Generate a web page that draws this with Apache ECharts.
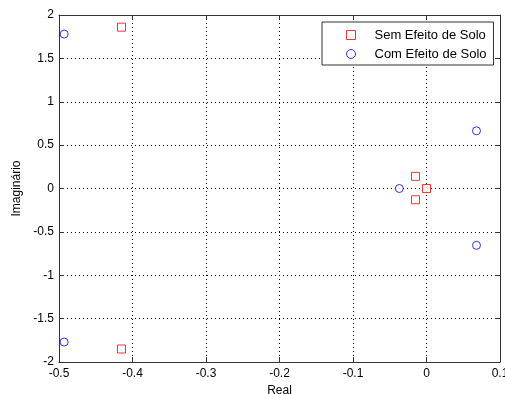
<!DOCTYPE html>
<html>
<head>
<meta charset="utf-8">
<script src="https://cdn.jsdelivr.net/npm/echarts@6/dist/echarts.min.js"></script>
<style>
  html, body { margin: 0; padding: 0; background: #fff; }
  #chart { width: 505px; height: 394px; }
</style>
</head>
<body>
<div id="chart"></div>
<script>
// polos sem efeito de solo (quadrados vermelhos)
const semReal = [-0.415, -0.415, -0.015, -0.015, 0];
const semImag = [1.86, -1.85, 0.14, -0.13, 0];
// polos com efeito de solo (circulos azuis)
const comReal = [-0.493, -0.493, -0.037, 0.068, 0.068];
const comImag = [1.78, -1.77, 0, 0.665, -0.655];

const seriesNames = ["Sem Efeito de Solo", "Com Efeito de Solo"];

const fontFam = "'Liberation Sans', Arial, sans-serif";

function pairs(xs, ys) {
  return xs.map((x, i) => [x, ys[i]]);
}

function fmt(v) {
  return String(parseFloat(v.toFixed(2)));
}

const chart = echarts.init(document.getElementById("chart"), null, { renderer: "canvas" });

const axisLine = { show: true, onZero: false, lineStyle: { color: "#333", width: 1 } };
const tick = { show: true, inside: true, length: 5, lineStyle: { color: "#333" } };
const grid = { show: true, lineStyle: { color: "#000", type: [1, 3], width: 1 } };

chart.setOption({
  animation: false,
  backgroundColor: "#fff",
  grid: { left: 59, top: 15, right: 5, bottom: 32, outerBoundsMode: "none", containLabel: false },
  legend: {
    orient: "vertical",
    left: 322,
    top: 22,
    padding: [6, 7, 4, 24],
    itemWidth: 9,
    itemHeight: 9,
    itemGap: 5,
    itemStyle: { borderWidth: 1 },
    backgroundColor: "#fff",
    borderColor: "#333",
    borderWidth: 1,
    textStyle: { fontFamily: fontFam, fontSize: 13, color: "#000", lineHeight: 14, padding: [0, 0, 0, 14] },
    data: seriesNames,
  },
  xAxis: [
    {
      type: "value",
      min: -0.5,
      max: 0.1,
      interval: 0.1,
      name: "Real",
      nameLocation: "middle",
      nameGap: 20,
      nameTextStyle: { fontFamily: fontFam, fontSize: 12, color: "#000" },
      axisLine: axisLine,
      axisTick: tick,
      splitLine: grid,
      axisLabel: { margin: 6, fontFamily: fontFam, fontSize: 12, color: "#000", formatter: fmt },
    },
    {
      type: "value",
      position: "top",
      min: -0.5,
      max: 0.1,
      interval: 0.1,
      axisLine: axisLine,
      axisTick: tick,
      splitLine: { show: false },
      axisLabel: { show: false },
    },
  ],
  yAxis: [
    {
      type: "value",
      min: -2,
      max: 2,
      interval: 0.5,
      name: "Imaginário",
      nameLocation: "middle",
      nameGap: 33,
      nameTextStyle: { fontFamily: fontFam, fontSize: 12, color: "#000" },
      axisLine: axisLine,
      axisTick: tick,
      splitLine: grid,
      axisLabel: { margin: 5, fontFamily: fontFam, fontSize: 12, color: "#000", formatter: fmt },
    },
    {
      type: "value",
      position: "right",
      min: -2,
      max: 2,
      interval: 0.5,
      axisLine: axisLine,
      axisTick: tick,
      splitLine: { show: false },
      axisLabel: { show: false },
    },
  ],
  series: [
    {
      name: seriesNames[0],
      type: "scatter",
      symbol: "rect",
      symbolSize: 8,
      itemStyle: { color: "#fff", borderColor: "#ff0000", borderWidth: 1 },
      data: pairs(semReal, semImag),
    },
    {
      name: seriesNames[1],
      type: "scatter",
      symbol: "circle",
      symbolSize: 8,
      itemStyle: { color: "#fff", borderColor: "#0000ff", borderWidth: 1 },
      data: pairs(comReal, comImag),
    },
  ],
});
</script>
</body>
</html>
